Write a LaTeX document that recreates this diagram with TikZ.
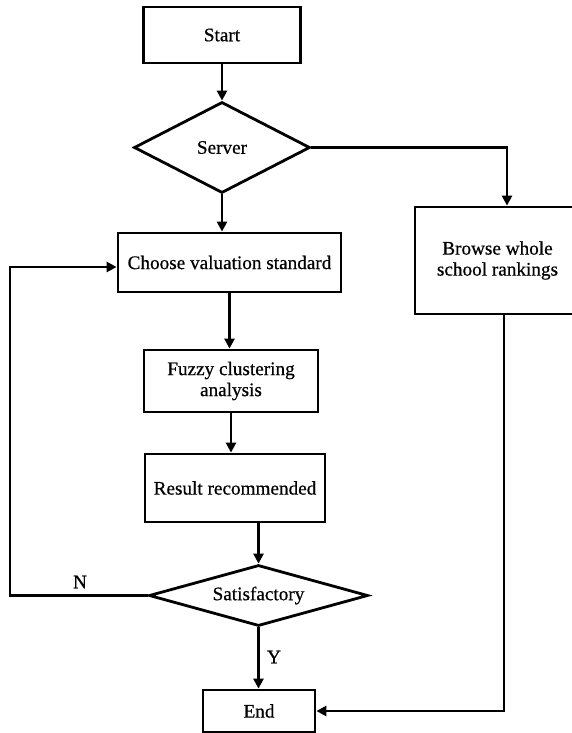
\documentclass[tikz,border=0pt]{standalone}
\usepackage{fontspec}
\setmainfont{Liberation Serif}[FakeBold=0.6]
\usetikzlibrary{shapes.geometric,arrows.meta}
\begin{document}
\begin{tikzpicture}[x=1pt,y=-1pt,
  every node/.style={font=\fontsize{19.2}{21}\selectfont},
  box/.style={draw,line width=2.8pt,rectangle,inner sep=0pt,align=center},
  dia/.style={draw,line width=2.8pt,diamond,inner sep=0pt},
  conn/.style={line width=2.8pt,-{Triangle[length=10pt,width=10pt]}}]
\useasboundingbox (0,0) rectangle (571,733);
\node[box,minimum width=157pt,minimum height=56pt] (start) at (222,35) {Start};
\node[dia,minimum width=176pt,minimum height=91pt,aspect=1.93] (server) at (222,147.5) {Server};
\node[box,minimum width=165pt,minimum height=107pt] (browse) at (497.5,260.5) {Browse whole\\school rankings};
\node[box,minimum width=223pt,minimum height=59pt] (choose) at (229.5,262.5) {Choose valuation standard};
\node[box,minimum width=174pt,minimum height=62pt] (fuzzy) at (231,381) {Fuzzy clustering\\analysis};
\node[box,minimum width=180pt,minimum height=68pt] (result) at (235,488) {Result recommended};
\node[dia,minimum width=219pt,minimum height=61pt,aspect=3.6] (satisf) at (258.5,595.5) {Satisfactory};
\node[box,minimum width=112pt,minimum height=42pt] (end) at (259,711) {End};
\node (nlab) at (80,582) {N};
\node (ylab) at (274,657) {Y};
\coordinate (loop) at (10,595.5);
\draw[conn] (start.south) -- (server.north);
\draw[conn] (server.east) -| ([xshift=9.5pt]browse.north);
\draw[conn] (server.south) -- (server.south |- choose.north);
\draw[conn] (choose.south) -- (choose.south |- fuzzy.north);
\draw[conn] (fuzzy.south) -- (fuzzy.south |- result.north);
\draw[conn] (satisf.north |- result.south) -- (satisf.north);
\draw[conn] (satisf.west) -- (loop) |- ([yshift=-4.5pt]choose.west);
\draw[conn] (satisf.south) -- (satisf.south |- end.north);
\draw[conn] ([xshift=6.5pt]browse.south) |- (end.east);
\end{tikzpicture}
\end{document}
